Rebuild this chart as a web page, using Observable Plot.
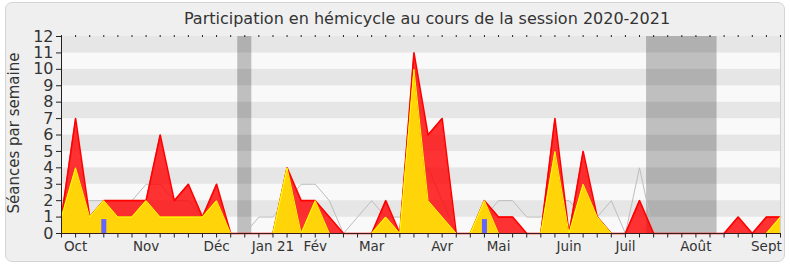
<!DOCTYPE html>
<html><head><meta charset="utf-8">
<script src="https://cdn.jsdelivr.net/npm/d3@7"></script>
<script src="https://cdn.jsdelivr.net/npm/@observablehq/plot@0.6"></script>
<style>
body{margin:0;background:#fff;}
#wrap{position:relative;width:790px;height:267px;overflow:hidden;font-family:"DejaVu Sans",Verdana,sans-serif;}
#frame{position:absolute;left:5px;top:2px;width:780px;height:260px;border:1px solid #d4d4d4;border-radius:7px;background:#efefef;box-sizing:border-box;}
#title{position:absolute;left:32px;width:790px;top:9px;text-align:center;font-size:16px;color:#333;line-height:20px;}
#ylabel{position:absolute;left:14px;top:133px;width:0;height:0;}
#ylabel span{position:absolute;left:0;top:0;transform:translate(-50%,-50%) rotate(-90deg);white-space:nowrap;font-size:15px;color:#333;line-height:18px;}
#chart{position:absolute;left:0;top:0;}
</style></head>
<body>
<div id="wrap">
<div id="frame"></div>
<div id="chart"></div>
<div id="title">Participation en hémicycle au cours de la session 2020-2021</div>
<div id="ylabel"><span id="ylabeltext"></span></div>
</div>
<script>
// weekly values, week index 0..51 (session 2020-2021)
const red    = [1,7,1,2,2,2,2,6,2,3,1,3,0,0,0,0,4,2,2,1,0,0,0,2,0,11,6,7,0,0,2,1,1,0,0,7,0,5,1,0,0,2,0,0,0,0,0,0,1,0,1,1];
const yellow = [1,4,1,2,1,1,2,1,1,1,1,2,0,0,0,0,4,0,2,0,0,0,0,1,0,10,2,1,0,0,2,0,0,0,0,5,0,3,1,0,0,0,0,0,0,0,0,0,0,0,0,1];
const gray   = [2,2,2,2,2,2,3,3,2,2,1,1,0,0,1,1,2,3,3,2,0,1,2,1,1,2,4,2,0,0,1,2,2,1,1,2,2,1,1,2,0,4,0,0,0,0,0,0,0,0,0,0];
const questionWeeks  = [3, 30];
const questionValues = [0.85, 0.85];
const holidayStart = [12.5, 41.5];
const holidayEnd   = [13.5, 46.5];
const monthWeeks  = [1,6,11,15,18,22,27,31,36,40,45,50];
const monthLabels = ["Oct","Nov","Déc","Jan 21","Fév","Mar","Avr","Mai","Juin","Juil","Août","Sept"];
const yTicks = [0,1,2,3,4,5,6,7,8,9,10,11,12];
const yLabel = "Séances par semaine";

document.getElementById("ylabeltext").textContent = yLabel;

const weeks = red.map((_, i) => i);
const data = weeks.map(i => ({week: i, red: red[i], yellow: yellow[i], gray: gray[i]}));
const questions = questionWeeks.map((w, i) => ({week: w, value: questionValues[i]}));
const holidays = holidayStart.map((s, i) => ({x1: s, x2: holidayEnd[i]}));
const bands = yTicks.slice(0, -1).map(t => ({y1: t, y2: t + 1, dark: t % 2 === 1}));

const chart = Plot.plot({
  width: 790, height: 267,
  marginLeft: 61, marginRight: 10, marginTop: 36, marginBottom: 34,
  x: {domain: [weeks[0], weeks[weeks.length - 1]]},
  y: {domain: [yTicks[0], yTicks[yTicks.length - 1]]},
  style: {background: "transparent", fontFamily: "DejaVu Sans, Verdana, sans-serif", color: "#333"},
  marks: [
    Plot.rect(bands, {y1: "y1", y2: "y2", fill: d => d.dark ? "#e6e6e6" : "#f9f9f9"}),
    Plot.rect(holidays, {x1: "x1", x2: "x2", fill: "#000", fillOpacity: 0.23}),
    Plot.line(data, {x: "week", y: "gray", stroke: "#bdbdbd", strokeWidth: 1}),
    Plot.areaY(data, {x: "week", y: "red", fill: "#ff0000", fillOpacity: 0.8}),
    Plot.line(data, {x: "week", y: "red", stroke: "#ff0000", strokeWidth: 1.6}),
    Plot.areaY(data, {x: "week", y: "yellow", fill: "#ffd50a"}),
    Plot.line(data, {x: "week", y: "yellow", stroke: "#ffff00", strokeWidth: 1}),
    Plot.ruleX(questions, {x: "week", y1: 0, y2: "value", stroke: "#6464ff", strokeWidth: 5}),
    Plot.ruleX([weeks[weeks.length - 1]], {stroke: "#d0d0d0"}),
    Plot.axisX({anchor: "top", ticks: weeks, tickSize: 2, tickFormat: () => "", stroke: "#222"}),
    Plot.axisX({anchor: "bottom", ticks: weeks, tickSize: 4.5, tickFormat: () => "", stroke: "#222"}),
    Plot.axisX({anchor: "bottom", ticks: monthWeeks, tickSize: 0, tickPadding: 8, fontSize: 13.5,
      tickFormat: (d) => monthLabels[monthWeeks.indexOf(d)], label: null, fill: "#333"}),
    Plot.axisY({anchor: "left", ticks: yTicks, tickSize: 5, tickPadding: 3, fontSize: 16, label: null, fill: "#333", stroke: "#222"}),
    Plot.ruleY([0], {stroke: "#3a1a1a"}),
    Plot.ruleX([weeks[0]], {stroke: "#222"})
  ]
});
document.getElementById("chart").appendChild(chart);
</script>
</body></html>
